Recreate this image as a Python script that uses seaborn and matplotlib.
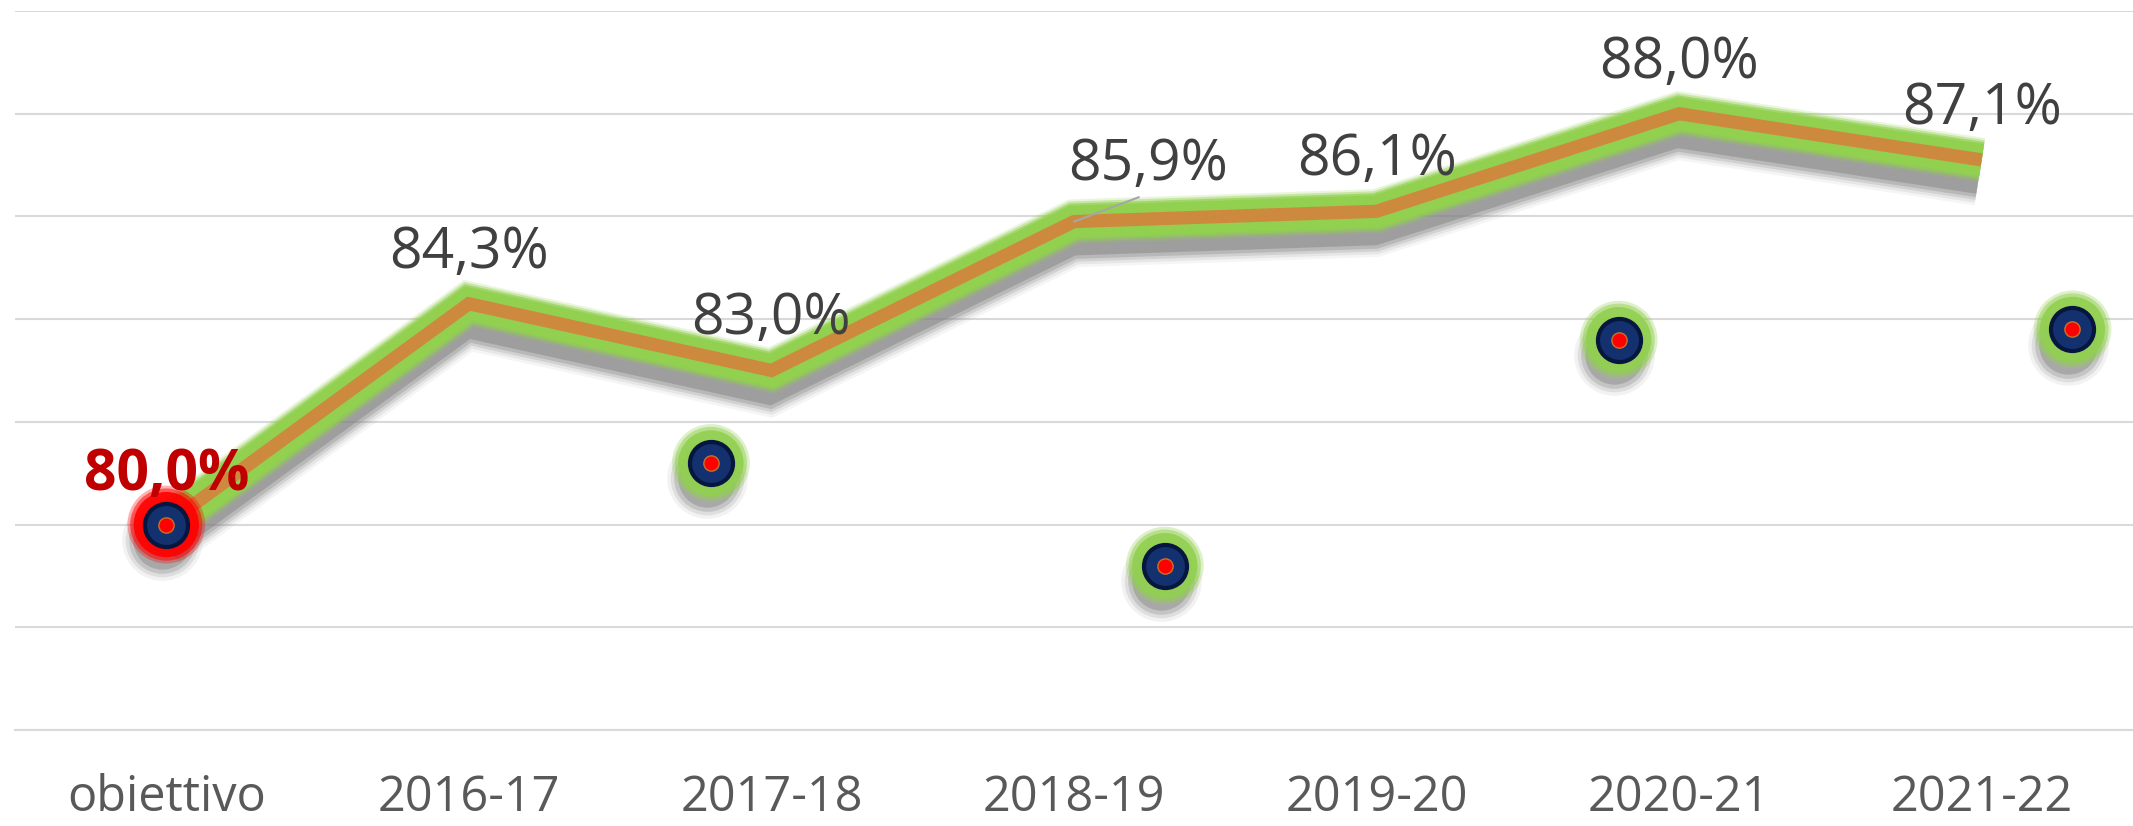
import numpy as np
import pandas as pd
import seaborn as sns
import matplotlib
matplotlib.use('Agg')
import matplotlib.pyplot as plt
import matplotlib.patheffects as pe
from matplotlib import transforms

# Data
categories = ['obiettivo', '2016-17', '2017-18', '2018-19', '2019-20', '2020-21', '2021-22']
line_values = [80.0, 84.3, 83.0, 85.9, 86.1, 88.0, 87.1]
line_labels = ['80,0%', '84,3%', '83,0%', '85,9%', '86,1%', '88,0%', '87,1%']

# second (dot) series, placed on fractional category positions
dot_pos = [0.0, 1.8, 3.3, 4.8, 6.3]
dot_values = [80.0, 81.2, 79.2, 83.6, 83.8]
dot_glow = ['#FF0000', '#92D050', '#92D050', '#92D050', '#92D050']

sns.set_theme(style='white')
plt.rcParams['font.family'] = ['Open Sans', 'DejaVu Sans']

df = pd.DataFrame({'pos': np.arange(len(categories)), 'value': line_values})
dots = pd.DataFrame({'pos': dot_pos, 'value': dot_values})

fig = plt.figure(figsize=(21.33, 8.26), dpi=100)
ax = fig.add_axes([15 / 2133, 1 - 730 / 826, (2133 - 15) / 2133, (730 - 11) / 826])

# line with soft shadow + green glow
shadow = [pe.Stroke(linewidth=w, foreground='#808080', alpha=a, offset=(-2, -12))
          for w, a in ((42, 0.08), (38, 0.12), (34, 0.2), (30, 0.3), (25, 0.45))]
glow = [pe.Stroke(linewidth=w, foreground='#92D050', alpha=a)
        for w, a in ((32, 0.2), (29, 0.4), (26, 0.7), (23, 1.0))]
sns.lineplot(data=df, x='pos', y='value', ax=ax, color='#CD8A3E', linewidth=9.5,
             solid_joinstyle='miter', solid_capstyle='butt',
             path_effects=shadow + glow + [pe.Normal()], zorder=3)

# dots: shadow, glow, navy body, red centre
shadow_tr = transforms.offset_copy(ax.transData, fig=fig, x=-3, y=-11, units='points')
for d, a in ((58, 0.1), (53, 0.17), (48, 0.27), (42, 0.4)):
    ax.scatter(dot_pos, dot_values, s=d ** 2, color='#808080', alpha=a, linewidths=0,
               transform=shadow_tr, zorder=4, clip_on=False)
for d, a in ((56, 0.3), (52, 0.5), (47, 0.9)):
    ax.scatter(dot_pos, dot_values, s=d ** 2, c=dot_glow, alpha=a, linewidths=0,
               zorder=5, clip_on=False)
sns.scatterplot(data=dots, x='pos', y='value', ax=ax, s=31 ** 2, color='#14316F',
                edgecolor='#06163F', linewidth=3, zorder=6, clip_on=False)
sns.scatterplot(data=dots, x='pos', y='value', ax=ax, s=11 ** 2, color='#FF0000',
                edgecolor='#C8702A', linewidth=1, zorder=7, clip_on=False)

# data labels
for i, (v, lab) in enumerate(zip(line_values, line_labels)):
    if i == 0:
        ax.annotate(lab, (i, v), xytext=(0, 25), textcoords='offset points',
                    ha='center', va='baseline', fontsize=41, fontweight='bold',
                    color='#C00000', zorder=8)
    elif lab == '85,9%':
        ax.annotate(lab, (i, v), xytext=(53, 30), textcoords='offset points',
                    ha='center', va='baseline', fontsize=41, color='#404040', zorder=8,
                    arrowprops=dict(arrowstyle='-', color='#A6A6A6', lw=1.5,
                                    relpos=(0.5, 0), shrinkA=0, shrinkB=0))
    else:
        ax.annotate(lab, (i, v), xytext=(0, 26), textcoords='offset points',
                    ha='center', va='baseline', fontsize=41, color='#404040', zorder=8)

# axes styling
ax.set_xlim(-0.5, 6.5)
ax.set_ylim(76, 90)
ax.set_yticks(np.arange(76, 91, 2))
ax.set_yticklabels([])
ax.set_xticks(np.arange(len(categories)))
ax.set_xticklabels(categories)
ax.set_xticks(np.arange(-0.5, 7, 1), minor=True)
ax.tick_params(axis='x', which='major', length=0, pad=31, labelsize=35, labelcolor='#595959')
ax.tick_params(axis='x', which='minor', length=11.5, width=1.5, color='#D9D9D9', direction='out')
ax.tick_params(axis='y', length=0)
ax.grid(axis='y', color='#D9D9D9', linewidth=1.5)
ax.grid(axis='x', visible=False)
ax.set_axisbelow(True)
for s in ('top', 'left', 'right'):
    ax.spines[s].set_visible(False)
ax.spines['bottom'].set_color('#D9D9D9')
ax.spines['bottom'].set_linewidth(1.5)
ax.set_xlabel('')
ax.set_ylabel('')

fig.savefig('out.png', dpi=100, facecolor='white')
